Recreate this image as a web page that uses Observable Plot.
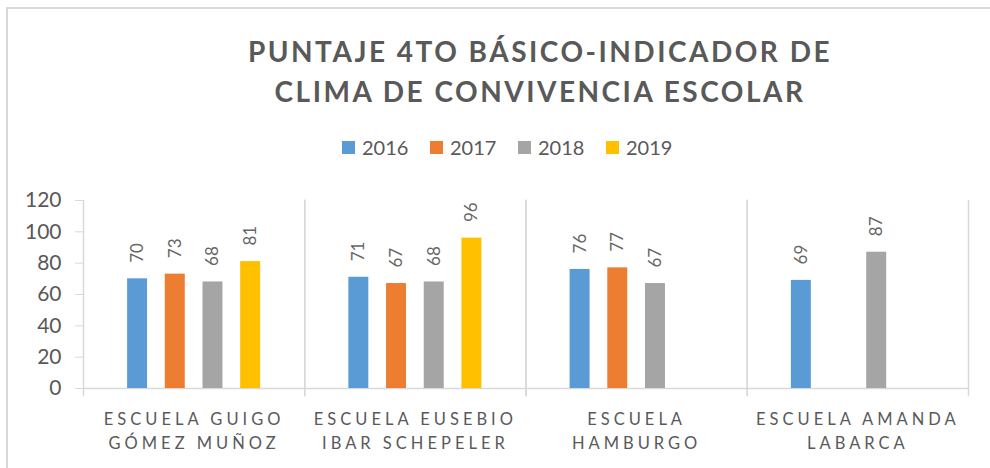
<!DOCTYPE html>
<html><head><meta charset="utf-8">
<script src="https://cdn.jsdelivr.net/npm/d3@7"></script>
<script src="https://cdn.jsdelivr.net/npm/@observablehq/plot@0.6"></script>
<style>
body{margin:0;background:#fff;font-family:Lato,sans-serif;}
#wrap{position:relative;width:990px;height:468px;overflow:hidden;background:#fff;}
#box{position:absolute;left:6px;top:7px;width:1000px;height:500px;border-left:2px solid #d9d9d9;border-top:2px solid #d9d9d9;}
#title{position:absolute;left:240px;width:600px;top:31px;text-align:center;font-weight:700;font-size:28px;letter-spacing:2.5px;color:#595959;line-height:40px;white-space:nowrap;}
#legend{position:absolute;top:137px;left:342px;display:flex;align-items:center;font-size:20px;line-height:20px;color:#595959;}
#legend .it{display:flex;align-items:center;margin-right:21.6px;}
#legend .sw{width:13px;height:13px;margin-right:7px;}
#chart{position:absolute;left:0;top:180px;}
#chart svg [aria-label="fx-axis tick label"] text{letter-spacing:4px;}
</style></head>
<body>
<div id="wrap">
<div id="box"></div>
<div id="title"></div>
<div id="legend"></div>
<div id="chart"></div>
</div>
<script>
const titleLines = ["PUNTAJE 4TO BÁSICO-INDICADOR DE", "CLIMA DE CONVIVENCIA ESCOLAR"];
const schools = ["ESCUELA GUIGO\nGÓMEZ MUÑOZ", "ESCUELA EUSEBIO\nIBAR SCHEPELER", "ESCUELA\nHAMBURGO", "ESCUELA AMANDA\nLABARCA"];
const years = ["2016", "2017", "2018", "2019"];
const colors = ["#5B9BD5", "#ED7D31", "#A5A5A5", "#FFC000"];
const v2016 = [70, 71, 76, 69];
const v2017 = [73, 67, 77, null];
const v2018 = [68, 68, 67, 87];
const v2019 = [81, 96, null, null];
const yTicks = [0, 20, 40, 60, 80, 100, 120];

const series = [v2016, v2017, v2018, v2019];
const data = [];
schools.forEach((s, i) => years.forEach((yr, j) => {
  const v = series[j][i];
  if (v != null) data.push({school: s, year: yr, value: v});
}));

document.getElementById("title").innerHTML = titleLines.join("<br>");
const lg = document.getElementById("legend");
years.forEach((yr, j) => {
  const it = document.createElement("div"); it.className = "it";
  const sw = document.createElement("div"); sw.className = "sw"; sw.style.background = colors[j];
  const tx = document.createElement("span"); tx.textContent = yr;
  it.appendChild(sw); it.appendChild(tx); lg.appendChild(it);
});

const gridColor = "#d9d9d9";
const txt = "#595959";
const chart = Plot.plot({
  width: 990,
  height: 288,
  marginLeft: 83,
  marginRight: 22,
  marginTop: 20,
  marginBottom: 80,
  style: {fontFamily: "Lato, sans-serif", background: "transparent", overflow: "visible"},
  fx: {domain: schools, padding: 0, round: false, label: null},
  x: {domain: years, paddingInner: 0.47, paddingOuter: 1.17, round: false, axis: null},
  y: {domain: [0, 120], label: null},
  color: {domain: years, range: colors},
  marks: [
    Plot.frame({anchor: "left", stroke: gridColor, strokeWidth: 1.5, insetBottom: -7}),
    Plot.frame({anchor: "right", stroke: gridColor, strokeWidth: 1.5, insetBottom: -7}),
    Plot.ruleY([0], {stroke: gridColor, strokeWidth: 1.5}),
    Plot.barY(data, {fx: "school", x: "year", y: "value", fill: "year"}),
    Plot.text(data, {fx: "school", x: "year", y: "value", text: "value", rotate: -90, textAnchor: "start", dy: -16, fontSize: 17, fill: "#666666"}),
    Plot.axisY({ticks: yTicks, tickSize: 8, tickPadding: 14, fontSize: 21, stroke: gridColor, fill: txt, label: null}),
    Plot.axisFx({anchor: "bottom", tickSize: 0, tickPadding: 20, fontSize: 16.5, lineHeight: 1.45, fill: txt, label: null})
  ]
});
document.getElementById("chart").appendChild(chart);
</script>
</body></html>
